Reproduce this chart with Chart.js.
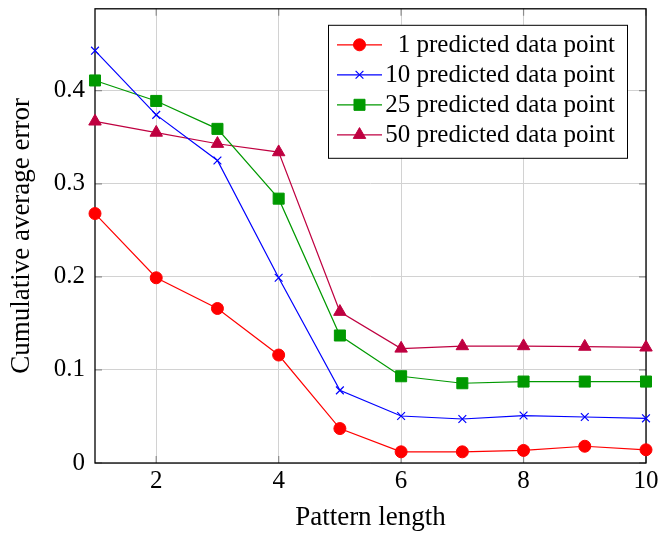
<!DOCTYPE html>
<html>
<head>
<meta charset="utf-8">
<script src="https://cdn.jsdelivr.net/npm/chart.js@4.4.1/dist/chart.umd.min.js"></script>
<style>
  html, body { margin: 0; padding: 0; background: #fff; }
  #errorChart { display: block; }
</style>
</head>
<body>
<canvas id="errorChart" width="659" height="538"></canvas>
<script>
// Pattern lengths on the x axis
const patternLengths = [1, 2, 3, 4, 5, 6, 7, 8, 9, 10];

// Cumulative average error per prediction horizon
const pred1 = [0.268, 0.199, 0.166, 0.116, 0.037, 0.012, 0.012, 0.0135, 0.018, 0.0142];
const pred10 = [0.443, 0.374, 0.325, 0.199, 0.078, 0.0505, 0.0473, 0.051, 0.0494, 0.048];
const pred25 = [0.411, 0.389, 0.359, 0.284, 0.137, 0.0932, 0.0857, 0.0875, 0.0875, 0.0875];
const pred50 = [0.367, 0.355, 0.343, 0.334, 0.1625, 0.123, 0.1256, 0.1256, 0.125, 0.1242];

const seriesLabels = [
    '1 predicted data point',
    '10 predicted data point',
    '25 predicted data point',
    '50 predicted data point'
];

// Axis ticks
const xTicks = [2, 4, 6, 8, 10];
const yTicks = [0, 0.1, 0.2, 0.3, 0.4];

const serif = "'Liberation Serif', 'Times New Roman', serif";

function toPoints(values) {
    return values.map((v, i) => ({ x: patternLengths[i], y: v }));
}

function makeSeries(label, values, color, style, radius) {
    return {
        label: label,
        data: toPoints(values),
        borderColor: color,
        backgroundColor: color,
        borderWidth: 1.2,
        pointStyle: style,
        pointRadius: radius,
        pointHoverRadius: radius,
        pointBackgroundColor: color,
        pointBorderColor: color,
        pointBorderWidth: style === 'crossRot' ? 1.2 : 1,
        tension: 0,
        clip: false
    };
}

// Frame around the plot plus small inner tick marks
const plotFrame = {
    id: 'plotFrame',
    beforeDatasetsDraw(chart) {
        const { ctx, chartArea: a, scales } = chart;
        ctx.save();
        ctx.strokeStyle = '#8c8c8c';
        ctx.lineWidth = 1.2;
        ctx.beginPath();
        xTicks.forEach(t => {
            const px = scales.x.getPixelForValue(t);
            ctx.moveTo(px, a.bottom); ctx.lineTo(px, a.bottom - 7);
            ctx.moveTo(px, a.top); ctx.lineTo(px, a.top + 7);
        });
        yTicks.forEach(t => {
            const py = scales.y.getPixelForValue(t);
            ctx.moveTo(a.left, py); ctx.lineTo(a.left + 7, py);
            ctx.moveTo(a.right, py); ctx.lineTo(a.right - 7, py);
        });
        ctx.stroke();
        ctx.strokeStyle = '#000';
        ctx.lineWidth = 1.3;
        ctx.strokeRect(a.left, a.top, a.right - a.left, a.bottom - a.top);
        ctx.restore();
    }
};

// Boxed legend in the upper right corner of the plot
const boxLegend = {
    id: 'boxLegend',
    afterDatasetsDraw(chart) {
        const { ctx, chartArea: a } = chart;
        const w = 299, h = 133;
        const right = a.right - 19, top = a.top + 16, left = right - w;
        ctx.save();
        ctx.fillStyle = '#fff';
        ctx.fillRect(left, top, w, h);
        ctx.strokeStyle = '#000';
        ctx.lineWidth = 1;
        ctx.strokeRect(left + 0.5, top + 0.5, w, h);
        chart.data.datasets.forEach((ds, i) => {
            const y = top + 20 + i * 30;
            ctx.strokeStyle = ds.borderColor;
            ctx.lineWidth = ds.borderWidth;
            ctx.beginPath();
            ctx.moveTo(left + 9, y);
            ctx.lineTo(left + 54, y);
            ctx.stroke();
            ctx.fillStyle = ds.pointBackgroundColor;
            ctx.lineWidth = ds.pointBorderWidth;
            Chart.helpers.drawPoint(ctx, {
                pointStyle: ds.pointStyle,
                radius: ds.pointRadius,
                borderWidth: ds.pointBorderWidth,
                rotation: 0
            }, left + 31.5, y);
            ctx.fillStyle = '#000';
            ctx.font = '25px ' + serif;
            ctx.textAlign = 'right';
            ctx.textBaseline = 'middle';
            ctx.fillText(ds.label, right - 12, y + 1);
        });
        ctx.restore();
    }
};

const ctx = document.getElementById('errorChart').getContext('2d');
new Chart(ctx, {
    type: 'line',
    data: {
        datasets: [
            makeSeries(seriesLabels[0], pred1, '#ff0000', 'circle', 6),
            makeSeries(seriesLabels[1], pred10, '#0000ff', 'crossRot', 5.5),
            makeSeries(seriesLabels[2], pred25, '#009900', 'rect', 7.8),
            makeSeries(seriesLabels[3], pred50, '#bf0040', 'triangle', 7.2)
        ]
    },
    options: {
        responsive: false,
        devicePixelRatio: 1,
        animation: false,
        events: [],
        layout: { padding: { top: 6, right: 13, bottom: 0, left: 0 } },
        plugins: {
            legend: { display: false },
            tooltip: { enabled: false }
        },
        scales: {
            x: {
                type: 'linear',
                min: 1,
                max: 10,
                afterBuildTicks: scale => { scale.ticks = xTicks.map(v => ({ value: v })); },
                afterFit: scale => {
                    scale.height = 75;
                    scale.paddingLeft = 0;
                    scale.paddingRight = 0;
                },
                grid: { color: '#d2d2d2', lineWidth: 1, drawTicks: false },
                border: { display: false },
                ticks: {
                    color: '#000',
                    padding: 3,
                    maxRotation: 0,
                    font: { family: serif, size: 25 }
                },
                title: {
                    display: true,
                    text: 'Pattern length',
                    color: '#000',
                    padding: { top: 0, bottom: 4 },
                    font: { family: serif, size: 27 }
                }
            },
            y: {
                type: 'linear',
                min: 0,
                max: 0.488,
                afterBuildTicks: scale => { scale.ticks = yTicks.map(v => ({ value: v })); },
                afterFit: scale => {
                    scale.width = 95;
                    scale.paddingTop = 0;
                    scale.paddingBottom = 0;
                },
                grid: { color: '#d2d2d2', lineWidth: 1, drawTicks: false },
                border: { display: false },
                ticks: {
                    color: '#000',
                    padding: 10,
                    font: { family: serif, size: 25 },
                    callback: v => (v === 0 ? '0' : v.toFixed(1))
                },
                title: {
                    display: true,
                    text: 'Cumulative average error',
                    color: '#000',
                    padding: { top: 6, bottom: 0 },
                    font: { family: serif, size: 27 }
                }
            }
        }
    },
    plugins: [plotFrame, boxLegend]
});
</script>
</body>
</html>
